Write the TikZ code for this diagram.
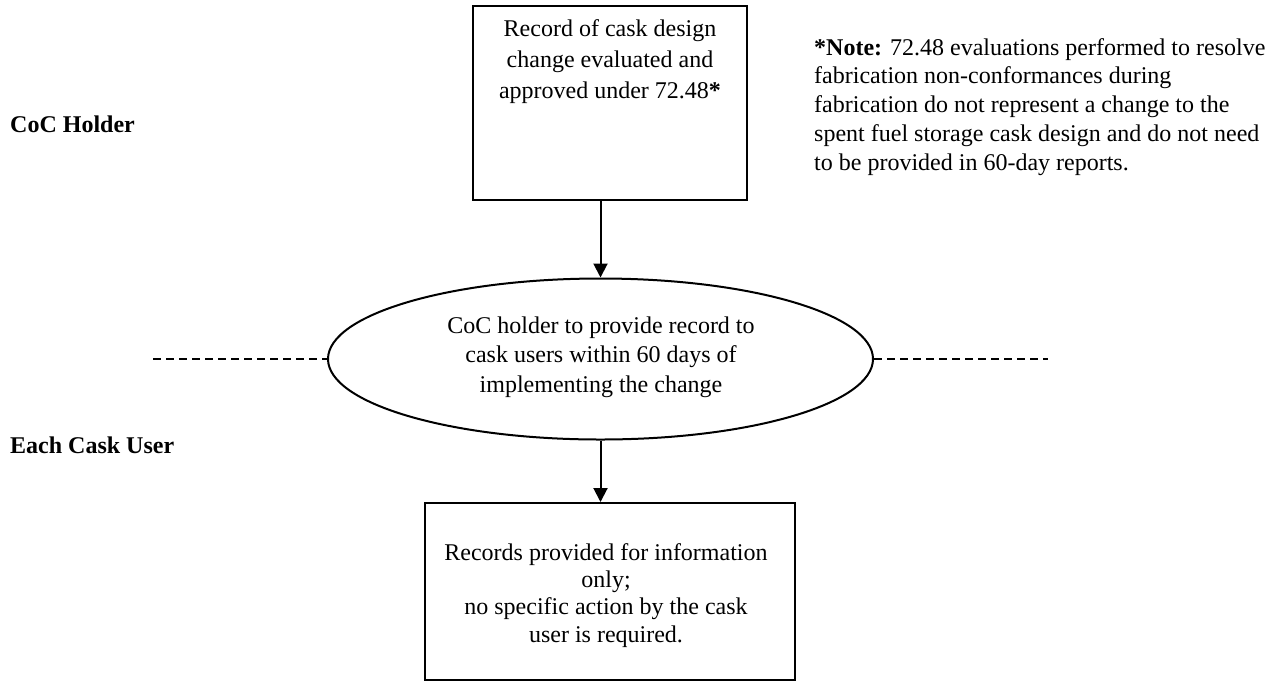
\documentclass[tikz,border=0pt]{standalone}
\usepackage{fontspec}
\setmainfont{Liberation Serif}
\usetikzlibrary{shapes.geometric,arrows.meta}
\begin{document}
\begin{tikzpicture}[x=1pt,y=-1pt,
  boxnode/.style={draw,line width=2pt,inner sep=0pt},
  txt/.style={align=center,anchor=base,inner sep=0pt},
  flow/.style={line width=2pt,-{Triangle[length=14pt,width=14pt]}},
  lane/.style={line width=2pt,dash pattern=on 8pt off 5pt},
  lbl/.style={anchor=base west,inner sep=0pt,font=\fontsize{24}{29}\selectfont\bfseries}]
\useasboundingbox (0,0) rectangle (1273,681);

% top box
\node[boxnode,minimum width=274pt,minimum height=194pt] (top) at (610,103) {};
\node[txt,font=\fontsize{24}{31}\selectfont] (toptext) at (610,98)
  {Record of cask design\\change evaluated and\\approved under 72.48\textbf{*}};

% ellipse
\node[boxnode,ellipse,minimum width=545pt,minimum height=161pt] (ell) at (600.5,359) {};
\node[txt,font=\fontsize{24}{29.5}\selectfont] (elltext) at (601,392)
  {CoC holder to provide record to\\cask users within 60 days of\\implementing the change};

% bottom box
\node[boxnode,minimum width=370pt,minimum height=177pt] (bot) at (610,591.5) {};
\node[txt,font=\fontsize{24}{27.3}\selectfont] (bottext) at (606,642)
  {Records provided for information\\only;\\no specific action by the cask\\user is required.};

% note
\node[anchor=base west,align=left,inner sep=0pt,font=\fontsize{24}{28.75}\selectfont] (note) at (814,170)
  {\textbf{*Note:} 72.48 evaluations performed to resolve\\
   fabrication non-conformances during\\
   fabrication do not represent a change to the\\
   spent fuel storage cask design and do not need\\
   to be provided in 60-day reports.};

% lane labels
\node[lbl] (coc) at (10,132) {CoC Holder};
\node[lbl] (user) at (10,453) {Each Cask User};

% connectors
\draw[flow] (ell.north |- top.south) -- (ell.north);
\draw[flow] (ell.south) -- (ell.south |- bot.north);

% lane divider
\coordinate (dl) at (153,359);
\coordinate (dr) at (1048,359);
\draw[lane] (dl) -- (ell.west);
\draw[lane] (ell.east) -- (dr);
\end{tikzpicture}
\end{document}
